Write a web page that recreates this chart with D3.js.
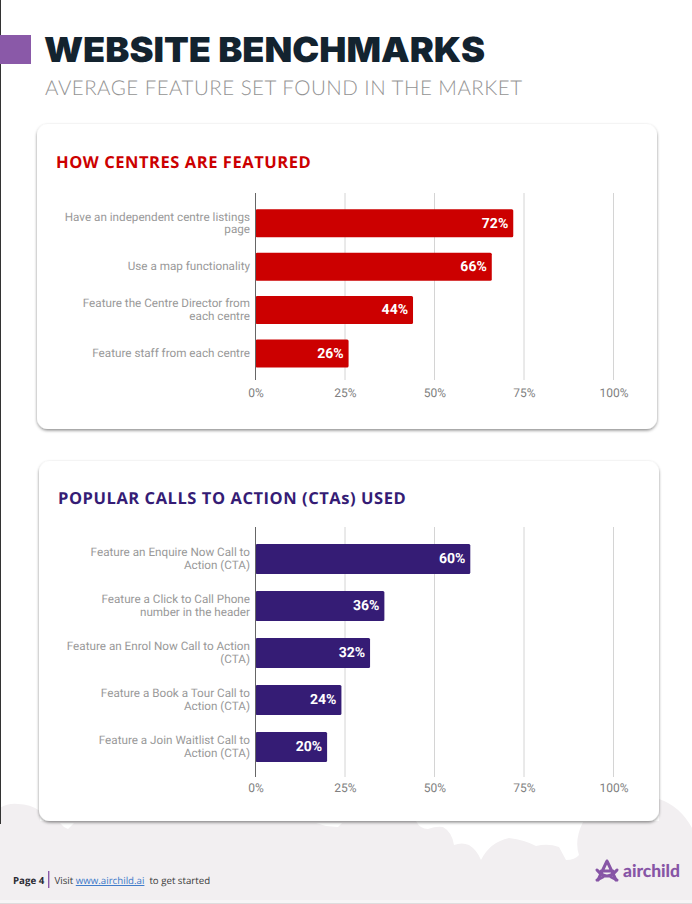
<!DOCTYPE html>
<html>
<head>
<meta charset="utf-8">
<script src="https://cdn.jsdelivr.net/npm/d3@7"></script>
<style>
  html, body { margin: 0; padding: 0; background: #fff; }
  svg { display: block; text-rendering: geometricPrecision; }
</style>
</head>
<body>
<svg id="page" width="692" height="904"></svg>
<script>
// Chart data
var centreLabels = [
  "Have an independent centre listings page",
  "Use a map functionality",
  "Feature the Centre Director from each centre",
  "Feature staff from each centre"
];
var centreValues = [72, 66, 44, 26];

var ctaLabels = [
  "Feature an Enquire Now Call to Action (CTA)",
  "Feature a Click to Call Phone number in the header",
  "Feature an Enrol Now Call to Action (CTA)",
  "Feature a Book a Tour Call to Action (CTA)",
  "Feature a Join Waitlist Call to Action (CTA)"
];
var ctaValues = [60, 36, 32, 24, 20];

var xTicks = [0, 25, 50, 75, 100];

var svg = d3.select("#page");

var defs = svg.append("defs");
var shadow = defs.append("filter").attr("id", "cardShadow")
  .attr("x", "-5%").attr("y", "-5%").attr("width", "110%").attr("height", "110%");
shadow.append("feDropShadow")
  .attr("dx", 0).attr("dy", 1.5).attr("stdDeviation", 1.6)
  .attr("flood-color", "#000").attr("flood-opacity", 0.45);

// Footer cloud background
svg.append("path")
  .attr("fill", "#f2eff1")
  .attr("d", "M0,808 Q8,803 18,804 Q30,804 40,811 L40,821 L416,821 Q420,829 428,829 Q436,826 443,827 Q452,832 454,845 Q462,842 469,845 Q477,850 481,860 Q490,842 509,838 Q525,840 536,846 Q548,843 559,847 L566,860 Q575,860 579,855 Q574,840 583,822 L659,821 L659,799 Q680,806 692,828 L692,900 L0,900 Z");
// Small white flecks just under the second card
svg.append("path").attr("fill", "#fff").attr("d", "M60,823 L74,823 L68,829 L64,827 Z M316,823 L342,823 L338,827 L326,826 Z");
svg.append("rect").attr("x", 0).attr("y", 900).attr("width", 692).attr("height", 3).attr("fill", "#f7f5f6");
svg.append("rect").attr("x", 0).attr("y", 903).attr("width", 692).attr("height", 1).attr("fill", "#dedcdd");

// Dark sliver on the left edge of the page
svg.append("rect").attr("x", 0).attr("y", 0).attr("width", 1).attr("height", 824).attr("fill", "#333");

// Header
svg.append("rect").attr("x", 0).attr("y", 35).attr("width", 31).attr("height", 29).attr("fill", "#8a59a8");
svg.append("text").attr("x", 44).attr("y", 62)
  .attr("font-family", "Inter").attr("font-weight", 900).attr("font-size", 34.5)
  .attr("textLength", 441).attr("lengthAdjust", "spacingAndGlyphs")
  .attr("fill", "#13232f").text("WEBSITE BENCHMARKS");
svg.append("text").attr("x", 45).attr("y", 94.5)
  .attr("font-family", "Lato").attr("font-weight", 300).attr("font-size", 20.5)
  .attr("textLength", 477).attr("fill", "#949494").text("AVERAGE FEATURE SET FOUND IN THE MARKET");

// Wraps an axis label onto lines no wider than maxWidth
function wrapLabel(selection, maxWidth) {
  selection.each(function () {
    var label = d3.select(this);
    var words = label.text().split(" ");
    var x = label.attr("x");
    label.text(null);
    var lines = [];
    var line = [];
    var probe = label.append("tspan");
    words.forEach(function (word) {
      line.push(word);
      probe.text(line.join(" "));
      if (probe.node().getComputedTextLength() > maxWidth && line.length > 1) {
        line.pop();
        lines.push(line.join(" "));
        line = [word];
      }
    });
    lines.push(line.join(" "));
    probe.remove();
    var lineHeight = 12.3;
    var firstDy = -(lines.length - 1) * lineHeight / 2;
    lines.forEach(function (t, i) {
      label.append("tspan")
        .attr("x", x)
        .attr("y", 0)
        .attr("dy", (firstDy + i * lineHeight + 3.4) + "px")
        .text(t);
    });
  });
}

function drawCard(opts) {
  var card = svg.append("g");
  card.append("rect")
    .attr("x", opts.box[0]).attr("y", opts.box[1])
    .attr("width", opts.box[2]).attr("height", opts.box[3])
    .attr("rx", 11).attr("fill", "#fff")
    .attr("filter", "url(#cardShadow)");

  card.append("text")
    .attr("x", opts.titleX).attr("y", opts.titleY)
    .attr("font-family", "Open Sans").attr("font-weight", 700).attr("font-size", 16.5)
    .attr("letter-spacing", 0.55)
    .attr("fill", opts.color).text(opts.title);

  var x = d3.scaleLinear().domain([0, 100]).range([255.5, 613.5]);
  var y = d3.scaleBand().domain(opts.labels).range(opts.bandRange)
    .paddingInner(opts.padding).paddingOuter(opts.padding / 2);

  // Gridlines
  card.append("g").selectAll("line")
    .data(xTicks.slice(1))
    .join("line")
    .attr("x1", d => x(d)).attr("x2", d => x(d))
    .attr("y1", opts.axisTop).attr("y2", opts.axisBottom)
    .attr("stroke", "#d4d4d4").attr("stroke-width", 1);

  // Bars
  card.append("g").selectAll("rect")
    .data(opts.values)
    .join("rect")
    .attr("x", x(0))
    .attr("y", (d, i) => y(opts.labels[i]))
    .attr("width", d => x(d) - x(0))
    .attr("height", y.bandwidth())
    .attr("rx", 1.5)
    .attr("fill", opts.color);

  // Value labels inside the bar ends
  card.append("g").selectAll("text")
    .data(opts.values)
    .join("text")
    .attr("x", d => x(d) - 5)
    .attr("y", (d, i) => y(opts.labels[i]) + y.bandwidth() / 2 + 4.3)
    .attr("text-anchor", "end")
    .attr("font-family", "Roboto").attr("font-weight", 700).attr("font-size", 14)
    .attr("fill", "#fff")
    .text(d => d + "%");

  // Baseline
  card.append("line")
    .attr("x1", x(0)).attr("x2", x(0))
    .attr("y1", opts.axisTop).attr("y2", opts.axisBottom)
    .attr("stroke", "#666").attr("stroke-width", 1);

  // Category axis
  var yAxis = card.append("g")
    .attr("transform", "translate(" + x(0) + ",0)")
    .call(d3.axisLeft(y).tickSize(0).tickPadding(5.5));
  yAxis.select(".domain").remove();
  yAxis.selectAll("text")
    .attr("font-family", "Roboto").attr("font-size", 11.7).attr("fill", "#999")
    .attr("dy", null)
    .call(wrapLabel, opts.wrapWidth);

  // Value axis
  var xAxis = card.append("g")
    .attr("transform", "translate(0," + opts.tickY + ")")
    .call(d3.axisBottom(x).tickValues(xTicks).tickSize(0).tickPadding(0).tickFormat(d => d + "%"));
  xAxis.select(".domain").remove();
  xAxis.selectAll("text")
    .attr("font-family", "Roboto").attr("font-size", 12).attr("fill", "#808080");
}

drawCard({
  box: [37, 124, 620, 305],
  title: "HOW CENTRES ARE FEATURED", titleX: 56, titleY: 168,
  color: "#cc0000",
  labels: centreLabels, values: centreValues,
  bandRange: [201.6, 375.2], padding: 0.355, wrapWidth: 192,
  axisTop: 193, axisBottom: 380, tickY: 388.5
});

drawCard({
  box: [39, 461, 620, 360],
  title: "POPULAR CALLS TO ACTION (CTAs) USED", titleX: 58, titleY: 504,
  color: "#351c75",
  labels: ctaLabels, values: ctaValues,
  bandRange: [535.5, 770.5], padding: 0.362, wrapWidth: 184,
  axisTop: 527, axisBottom: 777, tickY: 783.5
});

// Footer
var footer = svg.append("g").attr("font-family", "Open Sans").attr("font-size", 9.7);
footer.append("text").attr("x", 13).attr("y", 884).attr("font-weight", 700).attr("fill", "#2b2b33").text("Page 4");
footer.append("rect").attr("x", 48).attr("y", 871).attr("width", 1.4).attr("height", 17).attr("fill", "#8a59a8");
var visit = footer.append("text").attr("x", 54.5).attr("y", 884).attr("fill", "#3a3a3a");
visit.append("tspan").text("Visit ");
visit.append("tspan").attr("fill", "#3b78c9").attr("text-decoration", "underline").text("www.airchild.ai");
visit.append("tspan").attr("dx", 5).text("to get started");

// Airchild logo
var logo = svg.append("g").attr("fill", "none").attr("stroke", "#8755a6").attr("stroke-width", 3).attr("stroke-linecap", "round").attr("stroke-linejoin", "round");
logo.append("path").attr("d", "M607,861 L598,880 M607,861 L616,880 M601,871 L613,871");
logo.append("path").attr("d", "M597,870 Q607,882 617,870 M597,880 L603,877 M617,880 L611,877");
svg.append("text").attr("x", 623).attr("y", 877)
  .attr("font-family", "Lato").attr("font-weight", 900).attr("font-size", 17.5)
  .attr("textLength", 57).attr("fill", "#8755a6").text("airchild");
</script>
</body>
</html>
